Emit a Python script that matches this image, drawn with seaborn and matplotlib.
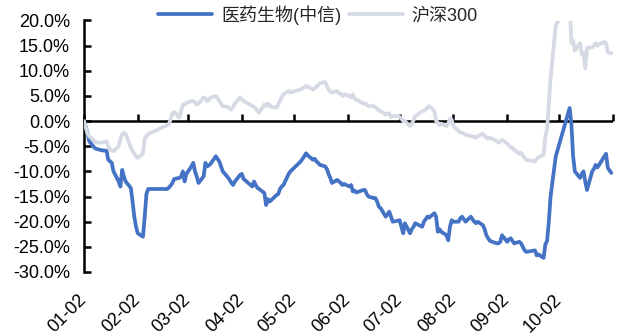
import matplotlib
matplotlib.use("Agg")
import matplotlib.pyplot as plt
from matplotlib.ticker import FuncFormatter, MultipleLocator
import pandas as pd
import seaborn as sns

YEAR = "2024"

# 医药生物(中信) cumulative return since the first trading day, %
med_dates = [
    "01-02", "01-04", "01-05", "01-08", "01-09", "01-10", "01-11", "01-12",
    "01-15", "01-16", "01-17", "01-18", "01-19", "01-22", "01-23", "01-24",
    "01-25", "01-26", "01-29", "01-30", "01-31", "02-01", "02-02", "02-05",
    "02-06", "02-07", "02-08", "02-19", "02-20", "02-21", "02-22", "02-23",
    "02-26", "02-27", "02-28", "02-29", "03-01", "03-04", "03-05", "03-06",
    "03-07", "03-08", "03-11", "03-12", "03-13", "03-14", "03-15", "03-18",
    "03-19", "03-20", "03-21", "03-22", "03-25", "03-26", "03-27", "03-28",
    "03-29", "04-01", "04-02", "04-03", "04-08", "04-09", "04-10", "04-11",
    "04-12", "04-15", "04-16", "04-17", "04-18", "04-19", "04-22", "04-23",
    "04-24", "04-25", "04-26", "04-29", "04-30", "05-06", "05-07", "05-08",
    "05-09", "05-10", "05-13", "05-14", "05-15", "05-16", "05-17", "05-20",
    "05-21", "05-22", "05-23", "05-24", "05-27", "05-28", "05-29", "05-30",
    "05-31", "06-03", "06-04", "06-05", "06-06", "06-07", "06-11", "06-12",
    "06-13", "06-14", "06-17", "06-18", "06-19", "06-20", "06-21", "06-24",
    "06-25", "06-26", "06-27", "06-28", "07-01", "07-02", "07-03", "07-04",
    "07-05", "07-08", "07-09", "07-10", "07-11", "07-12", "07-15", "07-16",
    "07-17", "07-18", "07-19", "07-22", "07-23", "07-24", "07-25", "07-26",
    "07-29", "07-30", "07-31", "08-01", "08-02", "08-05", "08-06", "08-07",
    "08-08", "08-09", "08-12", "08-13", "08-14", "08-15", "08-16", "08-19",
    "08-20", "08-21", "08-22", "08-23", "08-26", "08-27", "08-28", "08-29",
    "08-30", "09-02", "09-03", "09-04", "09-05", "09-06", "09-09", "09-10",
    "09-11", "09-12", "09-13", "09-18", "09-19", "09-20", "09-23", "09-24",
    "09-25", "09-26", "09-27", "09-30", "10-08", "10-09", "10-10", "10-11",
    "10-14", "10-15", "10-16", "10-17", "10-18", "10-21", "10-22", "10-23",
    "10-24", "10-25", "10-28", "10-29", "10-30", "10-31", "11-01",
]
med_pct = [
    0.0, -2.3, -4.0, -5.3, -5.5, -5.6, -5.7, -5.8,
    -5.9, -7.7, -8.0, -8.3, -10.0, -12.0, -13.0, -9.7,
    -11.0, -12.0, -13.3, -16.0, -19.0, -21.0, -22.3, -23.0,
    -19.0, -14.5, -13.5, -13.5, -13.2, -12.8, -12.3, -11.5,
    -11.3, -11.0, -10.0, -12.0, -10.5, -9.0, -8.3, -10.0,
    -11.0, -12.3, -11.0, -8.3, -9.0, -8.8, -8.5, -7.0,
    -7.5, -8.0, -9.0, -10.0, -11.2, -11.7, -12.3, -12.7,
    -12.0, -10.7, -10.5, -11.5, -13.0, -12.0, -12.7, -13.3,
    -13.5, -14.3, -16.7, -15.5, -16.0, -15.7, -14.7, -14.5,
    -13.5, -13.0, -12.7, -10.5, -10.0, -8.0, -7.5, -7.0,
    -6.4, -6.8, -7.7, -7.5, -8.0, -8.3, -8.7, -9.0,
    -9.5, -10.5, -11.3, -12.3, -11.7, -12.0, -12.3, -12.7,
    -12.5, -13.0, -12.7, -14.0, -13.8, -14.2, -13.7, -13.7,
    -14.5, -15.0, -15.3, -15.3, -16.0, -17.0, -17.3, -19.0,
    -18.5, -18.0, -19.0, -20.0, -19.8, -19.7, -21.0, -22.3,
    -20.3, -22.3, -21.5, -21.0, -20.3, -20.5, -21.0, -20.0,
    -19.5, -19.0, -19.2, -18.3, -19.0, -22.0, -21.5, -22.0,
    -22.7, -23.7, -21.0, -19.7, -20.0, -20.0, -19.3, -19.0,
    -19.5, -20.0, -19.0, -19.5, -20.0, -20.3, -20.0, -20.7,
    -21.5, -22.7, -23.3, -23.8, -24.2, -24.3, -24.3, -24.0,
    -22.7, -24.0, -23.5, -23.3, -23.8, -24.3, -24.0, -24.3,
    -25.0, -25.7, -26.0, -25.7, -26.7, -26.5, -27.2, -24.5,
    -23.8, -20.0, -15.0, -7.0, 2.6, -0.5, -7.0, -10.0,
    -11.3, -10.5, -10.0, -12.0, -13.7, -10.0, -9.5, -8.7,
    -9.2, -8.7, -7.0, -6.5, -9.3, -9.8, -10.3,
]

# 沪深300 cumulative return since the first trading day, %
hs_dates = [
    "01-02", "01-03", "01-04", "01-05", "01-08", "01-09", "01-10", "01-11",
    "01-12", "01-15", "01-16", "01-17", "01-18", "01-19", "01-22", "01-23",
    "01-24", "01-25", "01-26", "01-29", "01-30", "01-31", "02-01", "02-02",
    "02-05", "02-06", "02-07", "02-08", "02-19", "02-20", "02-21", "02-22",
    "02-23", "02-26", "02-27", "02-28", "02-29", "03-01", "03-04", "03-05",
    "03-06", "03-07", "03-08", "03-11", "03-12", "03-13", "03-14", "03-15",
    "03-18", "03-19", "03-20", "03-21", "03-22", "03-25", "03-26", "03-27",
    "03-28", "03-29", "04-01", "04-02", "04-03", "04-08", "04-09", "04-10",
    "04-11", "04-12", "04-15", "04-16", "04-17", "04-18", "04-19", "04-22",
    "04-23", "04-24", "04-25", "04-26", "04-29", "04-30", "05-06", "05-07",
    "05-08", "05-09", "05-10", "05-13", "05-14", "05-15", "05-16", "05-17",
    "05-20", "05-21", "05-22", "05-23", "05-24", "05-27", "05-28", "05-29",
    "05-30", "05-31", "06-03", "06-04", "06-05", "06-06", "06-07", "06-11",
    "06-12", "06-13", "06-14", "06-17", "06-18", "06-19", "06-20", "06-21",
    "06-24", "06-25", "06-26", "06-27", "06-28", "07-01", "07-02", "07-03",
    "07-04", "07-05", "07-08", "07-09", "07-10", "07-11", "07-12", "07-15",
    "07-16", "07-17", "07-18", "07-19", "07-22", "07-23", "07-24", "07-25",
    "07-26", "07-29", "07-30", "07-31", "08-01", "08-02", "08-05", "08-06",
    "08-07", "08-08", "08-09", "08-12", "08-13", "08-14", "08-15", "08-16",
    "08-19", "08-20", "08-21", "08-22", "08-23", "08-26", "08-27", "08-28",
    "08-29", "08-30", "09-02", "09-03", "09-04", "09-05", "09-06", "09-09",
    "09-10", "09-11", "09-12", "09-13", "09-18", "09-19", "09-20", "09-23",
    "09-24", "09-25", "09-26", "09-27", "09-30", "10-08", "10-09", "10-10",
    "10-11", "10-14", "10-15", "10-16", "10-17", "10-18", "10-21", "10-22",
    "10-23", "10-24", "10-25", "10-28", "10-29", "10-30", "10-31", "11-01",
]
hs_pct = [
    0.0, -1.2, -2.5, -3.0, -4.0, -4.2, -4.3, -4.3,
    -4.3, -4.0, -5.0, -5.7, -5.8, -6.0, -5.0, -3.5,
    -2.7, -2.3, -2.5, -5.2, -5.9, -6.5, -7.0, -7.3,
    -6.5, -3.5, -3.0, -2.6, -0.8, -0.6, 0.5, 1.5,
    1.8, 0.7, 2.0, 3.3, 3.3, 3.6, 4.0, 4.0,
    3.7, 3.3, 3.5, 4.7, 4.5, 4.0, 4.2, 4.7,
    5.0, 4.5, 4.0, 3.5, 3.0, 2.8, 2.5, 2.3,
    2.8, 3.5, 4.7, 4.3, 4.0, 3.0, 2.8, 2.5,
    2.0, 1.7, 3.3, 3.0, 3.5, 3.2, 2.8, 2.7,
    3.3, 4.0, 4.8, 5.3, 6.0, 5.7, 6.3, 6.5,
    6.7, 7.0, 6.8, 6.3, 6.5, 6.8, 7.2, 7.5,
    7.8, 7.0, 6.3, 5.8, 5.7, 6.0, 5.5, 5.5,
    5.0, 5.3, 5.0, 4.7, 5.3, 4.5, 4.3, 3.5,
    3.5, 3.3, 3.0, 3.0, 2.7, 2.5, 2.0, 2.0,
    1.3, 1.5, 1.5, 0.8, 1.0, 1.0, 0.8, 0.5,
    0.0, 0.0, -1.0, -0.5, 0.2, 1.0, 1.2, 2.0,
    2.0, 2.3, 2.7, 3.0, 2.0, 0.0, -0.3, -0.8,
    -0.5, -1.0, -0.5, 0.5, 0.3, -1.0, -2.0, -2.3,
    -2.3, -2.5, -2.7, -3.0, -3.0, -3.2, -3.3, -3.0,
    -2.5, -3.0, -3.2, -3.5, -3.3, -3.8, -4.0, -4.3,
    -4.0, -3.7, -4.5, -4.8, -5.3, -5.3, -5.7, -6.5,
    -6.3, -6.8, -7.3, -7.7, -8.0, -7.5, -7.2, -6.7,
    -3.0, -1.5, 3.5, 8.5, 19.0, 24.0, 15.5, 16.0,
    14.0, 15.5, 13.3, 13.5, 10.5, 14.5, 14.7, 15.0,
    15.5, 15.0, 15.3, 15.7, 15.5, 13.7, 13.5, 13.5,
]

series_names = ["医药生物(中信)", "沪深300"]
series_colors = ["#4472C4", "#D5DAE4"]

tick_dates = ["01-02", "02-02", "03-02", "04-02", "05-02", "06-02",
              "07-02", "08-02", "09-02", "10-02", "11-02"]
tick_labels = ["01-02", "02-02", "03-02", "04-02", "05-02", "06-02",
               "07-02", "08-02", "09-02", "10-02", ""]

Y_MIN, Y_MAX, Y_STEP = -30, 20, 5


def to_dates(days):
    return pd.to_datetime([f"{YEAR}-{d}" for d in days])


df = pd.concat([
    pd.DataFrame({"date": to_dates(med_dates), "pct": med_pct,
                  "series": series_names[0]}),
    pd.DataFrame({"date": to_dates(hs_dates), "pct": hs_pct,
                  "series": series_names[1]}),
], ignore_index=True)

sns.set_theme(style="white")
plt.rcParams["font.family"] = ["Liberation Sans", "Noto Sans CJK SC"]
plt.rcParams["axes.unicode_minus"] = False

W, H = 619, 336
fig = plt.figure(figsize=(W / 100, H / 100), dpi=100)
ax = fig.add_axes([84 / W, 1 - 272 / H, (613 - 84) / W, (272 - 20.5) / H])

sns.lineplot(data=df, x="date", y="pct", hue="series", hue_order=series_names,
             palette=dict(zip(series_names, series_colors)),
             estimator=None, sort=True, linewidth=2.7, legend=False,
             ax=ax, zorder=3)

ticks = to_dates(tick_dates)
ax.set_xlim(ticks[0], ticks[-1])
ax.set_ylim(Y_MIN, Y_MAX)
ax.set_xlabel("")
ax.set_ylabel("")

# y axis: percent labels, inward ticks
ax.yaxis.set_major_locator(MultipleLocator(Y_STEP))
ax.yaxis.set_major_formatter(FuncFormatter(lambda v, _: f"{v:.1f}%"))
ax.tick_params(axis="y", direction="in", length=5, width=1.8, color="black",
               labelsize=13, labelcolor="black", pad=10, left=True)

for side in ("top", "right", "bottom"):
    ax.spines[side].set_visible(False)
ax.spines["left"].set_color("black")
ax.spines["left"].set_linewidth(1.8)

# month labels along the bottom edge
ax.set_xticks(ticks)
ax.set_xticklabels(tick_labels, rotation=45, ha="right", va="center",
                   rotation_mode="anchor")
ax.tick_params(axis="x", length=0, labelsize=13, labelcolor="black", pad=18,
               bottom=True)

# zero line with upward month tick marks
ax.axhline(0, color="black", linewidth=1.8, zorder=1.5)
zero_pos = (0 - Y_MIN) / (Y_MAX - Y_MIN)
sec = ax.secondary_xaxis(zero_pos)
sec.set_xticks(ticks)
sec.set_xticklabels([""] * len(ticks))
for sp in sec.spines.values():
    sp.set_visible(False)
sec.tick_params(axis="x", direction="out", length=5, width=1.8,
                color="black")

handles = ax.get_lines()[:2]
fig.legend(handles, series_names, loc="center",
           bbox_to_anchor=(318 / W, 1 - 15 / H), ncol=2, frameon=False,
           fontsize=13, handlelength=3.0, handletextpad=0.5,
           columnspacing=0.4, borderpad=0, borderaxespad=0)

fig.savefig("out.png", dpi=100, facecolor="white")
